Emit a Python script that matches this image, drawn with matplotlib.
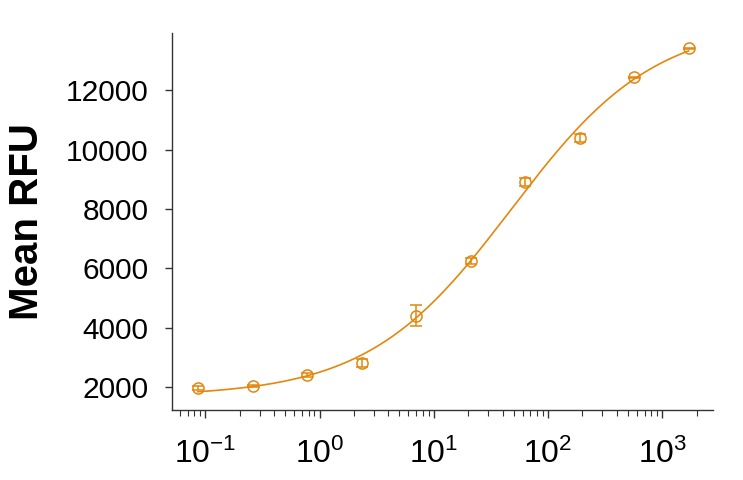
import numpy as np
import matplotlib
matplotlib.use("Agg")
import matplotlib.pyplot as plt
from matplotlib.ticker import LogLocator, FixedLocator, NullFormatter

# --- data ---
conc = [0.086, 0.26, 0.78, 2.33, 7.0, 21.0, 63.0, 189.0, 567.0, 1700.0]
mean_rfu = [1960, 2030, 2400, 2810, 4400, 6240, 8900, 10390, 12430, 13410]
err_rfu = [70, 30, 60, 130, 350, 100, 130, 130, 20, 20]
yticks = [2000, 4000, 6000, 8000, 10000, 12000]
xticks = [0.1, 1, 10, 100, 1000]
xticklabels = [r"$\mathregular{10^{-1}}$", r"$\mathregular{10^{0}}$", r"$\mathregular{10^{1}}$",
               r"$\mathregular{10^{2}}$", r"$\mathregular{10^{3}}$"]

ORANGE = "#E3870F"

plt.rcParams['font.family'] = ['Liberation Sans', 'DejaVu Sans']
plt.rcParams['mathtext.fontset'] = 'custom'
plt.rcParams['mathtext.rm'] = 'Liberation Sans'


# 4PL fit: grid over EC50 / hill, linear least squares for bottom / top
def fit_4pl(x, y):
    x = np.asarray(x, float)
    y = np.asarray(y, float)
    best = None
    for lc in np.linspace(0.5, 3.0, 251):
        for b in np.linspace(0.4, 1.6, 121):
            g = 1.0 / (1.0 + (x / 10 ** lc) ** b)
            M = np.column_stack([g, 1 - g])
            coef, *_ = np.linalg.lstsq(M, y, rcond=None)
            r = np.sum((M @ coef - y) ** 2)
            if best is None or r < best[0]:
                best = (r, coef[0], coef[1], 10 ** lc, b)
    return best[1:]


A, D, C, B = fit_4pl(conc, mean_rfu)
xs = np.logspace(np.log10(conc[0]), np.log10(conc[-1]), 300)
ys = D + (A - D) / (1 + (xs / C) ** B)

fig = plt.figure(figsize=(7.43, 4.8), dpi=100)
ax = fig.add_axes([0.2315, 0.146, 0.7285, 0.785])

ax.plot(xs, ys, color=ORANGE, lw=1.2)
ax.errorbar(conc, mean_rfu, yerr=err_rfu, fmt='o', mfc='none', mec=ORANGE,
            ecolor=ORANGE, ms=8, mew=1.1, elinewidth=1.1, capsize=4, capthick=1.1)

ax.set_xscale('log')
ax.set_xlim(0.051, 2800)
ax.set_ylim(1230, 13920)

ax.xaxis.set_major_locator(FixedLocator(xticks))
ax.set_xticklabels(xticklabels)
ax.xaxis.set_minor_locator(LogLocator(base=10, subs=np.arange(2, 10)))
ax.xaxis.set_minor_formatter(NullFormatter())
ax.set_yticks(yticks)
ax.set_yticklabels([str(v) for v in yticks])

for s in ['top', 'right']:
    ax.spines[s].set_visible(False)
for s in ['left', 'bottom']:
    ax.spines[s].set_color('#333333')
    ax.spines[s].set_linewidth(1.0)

ax.tick_params(axis='y', which='major', length=5, width=1, color='#333333',
               labelsize=21.5, pad=12)
ax.tick_params(axis='x', which='major', length=6, width=1, color='#333333',
               labelsize=23, pad=15)
ax.tick_params(axis='x', which='minor', length=4, width=0.8, color='#333333')

ax.set_ylabel('Mean RFU', fontsize=29, fontweight='bold', labelpad=14)

fig.savefig('out.png', dpi=100)
